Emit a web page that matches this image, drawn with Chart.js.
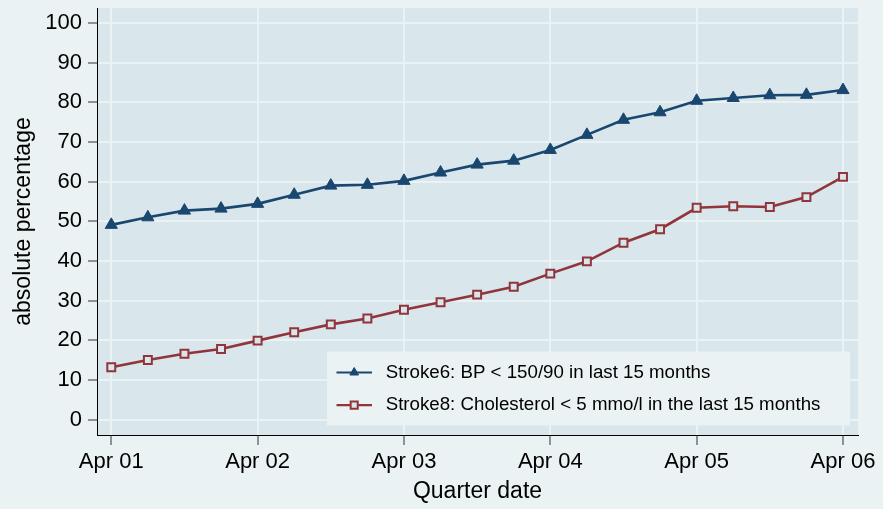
<!DOCTYPE html>
<html>
<head>
<meta charset="utf-8">
<script src="https://cdn.jsdelivr.net/npm/chart.js@4.4.1/dist/chart.umd.min.js"></script>
<style>
  html, body { margin: 0; padding: 0; background: #eaf2f3; }
</style>
</head>
<body>
<canvas id="myChart" width="883" height="509"></canvas>
<script>
// quarters, Apr 2001 .. Apr 2006
const quarterLabels = [
  "Apr 01", "Jul 01", "Oct 01", "Jan 02",
  "Apr 02", "Jul 02", "Oct 02", "Jan 03",
  "Apr 03", "Jul 03", "Oct 03", "Jan 04",
  "Apr 04", "Jul 04", "Oct 04", "Jan 05",
  "Apr 05", "Jul 05", "Oct 05", "Jan 06",
  "Apr 06",
];
const bpValues = [49.1, 51.0, 52.7, 53.2, 54.4, 56.7, 59.0, 59.2, 60.2, 62.3, 64.3,
  65.3, 68.0, 71.8, 75.6, 77.5, 80.4, 81.1, 81.8, 81.9, 83.1];
const cholValues = [13.2, 15.0, 16.6, 17.8, 19.9, 22.0, 24.0, 25.5, 27.7, 29.6, 31.5,
  33.5, 36.8, 39.9, 44.6, 48.0, 53.4, 53.8, 53.6, 56.1, 61.2];
const yTicks = [0, 10, 20, 30, 40, 50, 60, 70, 80, 90, 100];
const xTicks = quarterLabels.map((l, i) => (l.startsWith("Apr") ? i : -1)).filter((i) => i >= 0);

const outerBg = "#eaf2f3";
const plotColor = "#d9e6eb";
Chart.defaults.font.family = '"Liberation Sans", Arial, sans-serif';
Chart.defaults.color = "#000";

const plotBg = {
  id: "plotBg",
  beforeDraw(chart) {
    const { ctx, chartArea: a, width, height } = chart;
    ctx.save();
    ctx.fillStyle = outerBg;
    ctx.fillRect(0, 0, width, height);
    ctx.fillStyle = plotColor;
    ctx.fillRect(a.left, a.top, a.right - a.left, a.bottom - a.top);
    ctx.restore();
  },
};

// legend box inside the plot, bottom right
const boxLegend = {
  id: "boxLegend",
  afterDatasetsDraw(chart) {
    const { ctx, chartArea: a } = chart;
    const w = 523, h = 74;
    const x0 = a.right - 8 - w;
    const y0 = a.bottom - 9.5 - h;
    ctx.save();
    ctx.fillStyle = outerBg;
    ctx.fillRect(x0, y0, w, h);
    ctx.font = '18.7px "Liberation Sans", Arial, sans-serif';
    ctx.textBaseline = "middle";
    chart.data.datasets.forEach((ds, i) => {
      const y = y0 + 21 + i * 32.6;
      ctx.strokeStyle = ds.borderColor;
      ctx.lineWidth = 2.2;
      ctx.beginPath();
      ctx.moveTo(x0 + 9.5, y);
      ctx.lineTo(x0 + 45, y);
      ctx.stroke();
      ctx.fillStyle = ds.pointBackgroundColor;
      ctx.strokeStyle = ds.pointBorderColor;
      ctx.lineWidth = ds.pointBorderWidth;
      Chart.helpers.drawPoint(ctx, { pointStyle: ds.pointStyle, radius: 5, borderWidth: ds.pointBorderWidth, rotation: 0 }, x0 + 27.2, y);
      ctx.fillStyle = "#000";
      ctx.fillText(ds.label, x0 + 58.7, y);
    });
    ctx.restore();
  },
};

const gridOpts = { color: outerBg, lineWidth: 2, tickColor: "#333", tickWidth: 1 };

new Chart(document.getElementById("myChart"), {
  type: "line",
  data: {
    datasets: [
      {
        label: "Stroke6: BP < 150/90 in last 15 months",
        data: bpValues.map((v, i) => ({ x: i, y: v })),
        borderColor: "#1a476f",
        backgroundColor: "#1a476f",
        borderWidth: 2.6,
        pointStyle: "triangle",
        pointRadius: 7,
        pointBorderWidth: 1,
        pointBackgroundColor: "#1a476f",
        pointBorderColor: "#1a476f",
      },
      {
        label: "Stroke8: Cholesterol < 5 mmo/l in the last 15 months",
        data: cholValues.map((v, i) => ({ x: i, y: v })),
        borderColor: "#90353b",
        backgroundColor: "#90353b",
        borderWidth: 2.6,
        pointStyle: "rect",
        pointRadius: 5.6,
        pointBorderWidth: 2,
        pointBackgroundColor: plotColor,
        pointBorderColor: "#90353b",
      },
    ],
  },
  options: {
    responsive: false,
    animation: false,
    layout: { padding: { top: 7.5, right: 25, left: 0, bottom: 0 } },
    plugins: {
      legend: { display: false },
      tooltip: { enabled: false },
    },
    scales: {
      x: {
        type: "linear",
        min: -0.39,
        max: 20.41,
        afterBuildTicks: (s) => { s.ticks = xTicks.map((v) => ({ value: v })); },
        afterFit: (s) => {
          s.height = 74;
          s.paddingLeft = 0;
          s.paddingRight = 0;
        },
        ticks: {
          callback: (v) => quarterLabels[v],
          font: { size: 22 },
          padding: 4,
          maxRotation: 0,
          autoSkip: false,
        },
        grid: { ...gridOpts, tickLength: 10 },
        border: { color: "#000", width: 1 },
        title: { display: true, text: "Quarter date", font: { size: 23 }, padding: { top: 0, bottom: 4 } },
      },
      y: {
        min: -3.9,
        max: 103.8,
        afterBuildTicks: (s) => { s.ticks = yTicks.map((v) => ({ value: v })); },
        afterFit: (s) => {
          s.width = 97;
          s.paddingTop = 0;
          s.paddingBottom = 0;
        },
        ticks: { font: { size: 22 }, padding: 6 },
        grid: { ...gridOpts, tickLength: 9 },
        border: { color: "#000", width: 1 },
        title: { display: true, text: "absolute percentage", font: { size: 23 }, padding: { top: 10, bottom: 0 } },
      },
    },
  },
  plugins: [plotBg, boxLegend],
});
</script>
</body>
</html>
